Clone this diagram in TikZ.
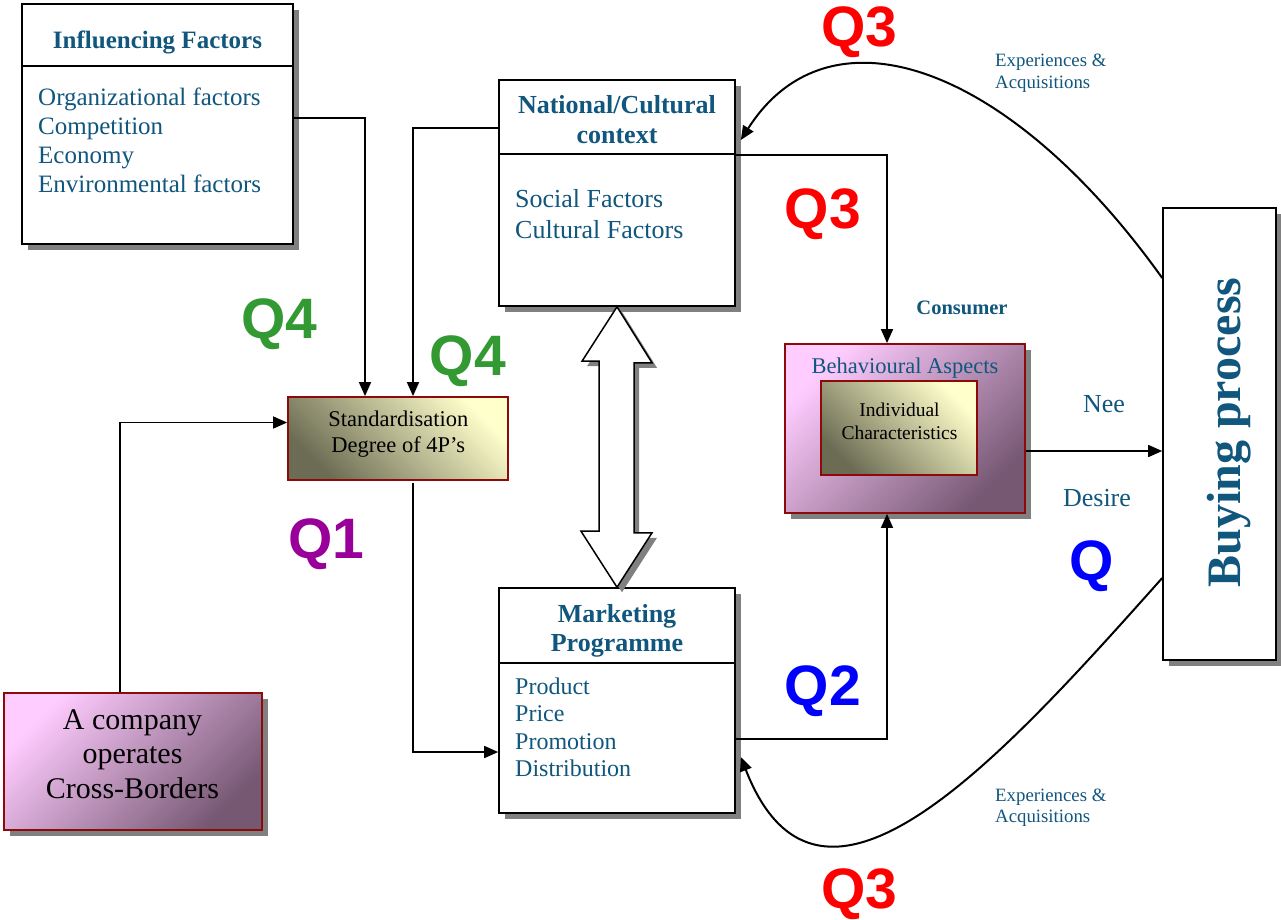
\documentclass[tikz,border=0pt]{standalone}
\usepackage{fontspec}
\setmainfont{Liberation Serif}
\newfontfamily\qfont{Liberation Sans}
\usetikzlibrary{arrows.meta,shadows}

\definecolor{tealtxt}{RGB}{16,86,125}
\definecolor{shadowgray}{RGB}{128,128,128}
\definecolor{frameRed}{RGB}{140,10,10}
\definecolor{pinkLight}{RGB}{255,204,255}
\definecolor{pinkDark}{RGB}{118,88,115}
\definecolor{creamLight}{RGB}{255,255,204}
\definecolor{oliveDark}{RGB}{108,108,84}
\definecolor{qRed}{RGB}{255,0,0}
\definecolor{qBlue}{RGB}{0,0,255}
\definecolor{qGreen}{RGB}{51,153,51}
\definecolor{qPurple}{RGB}{153,0,153}

\tikzset{
  shd/.style={drop shadow={shadow xshift=6pt,shadow yshift=-6pt,fill=shadowgray,opacity=1}},
  wbox/.style={draw=black,line width=1.6pt,fill=white,inner sep=0pt,shd},
  pinkbox/.style={draw=frameRed,line width=1.8pt,inner sep=0pt,
    top color=pinkLight,bottom color=pinkDark,shading angle=45},
  creambox/.style={draw=frameRed,line width=1.8pt,inner sep=0pt,
    top color=creamLight,bottom color=oliveDark,shading angle=-45},
  divider/.style={draw=black,line width=1.6pt},
  conn/.style={draw=black,line width=1.6pt,-{Triangle[length=14pt,width=12pt]}},
  curved/.style={conn,line width=2pt},
  lbl/.style={inner sep=0pt,text=tealtxt},
  blk/.style={inner sep=0pt,text=black},
  qlab/.style={inner sep=0pt,anchor=base west,font=\qfont\bfseries\fontsize{57}{57}\selectfont},
  dblarrow/.style={draw=black,line width=1.5pt,fill=white,line join=miter,
    drop shadow={shadow xshift=5pt,shadow yshift=-5pt,fill=shadowgray,opacity=1}}
}

\begin{document}
\begin{tikzpicture}[x=1pt,y=-1pt]
\useasboundingbox (0,0) rectangle (1281,919);

% ---- boxes ----
\node[wbox,minimum width=271pt,minimum height=240pt] (inf) at (157.5,124) {};
\node[wbox,minimum width=236pt,minimum height=226pt] (nat) at (617,193) {};
\node[wbox,minimum width=236pt,minimum height=225pt] (mkt) at (617,700.5) {};
\node[wbox,minimum width=113pt,minimum height=452pt] (buy) at (1219.5,434) {};
\node[creambox,minimum width=220pt,minimum height=83pt] (std) at (398,438.5) {};
\node[pinkbox,shd,minimum width=240pt,minimum height=169pt] (beh) at (905,428.5) {};
\node[creambox,minimum width=156pt,minimum height=94pt] (ind) at (899,428) {};
\node[pinkbox,shd,minimum width=258pt,minimum height=137pt] (comp) at (133,761.5) {};

% header separators
\draw[divider] ([yshift=-63pt]inf.north west) -- ([yshift=-63pt]inf.north east);
\draw[divider] ([yshift=-75pt]nat.north west) -- ([yshift=-75pt]nat.north east);
\draw[divider] ([yshift=-76pt]mkt.north west) -- ([yshift=-76pt]mkt.north east);

% ---- texts in the boxes ----
\node[lbl,anchor=base,font=\bfseries\fontsize{25}{29}\selectfont] (infT) at (157.5,48) {Influencing Factors};
\foreach \t [count=\i] in {Organizational factors,Competition,Economy,Environmental factors}
  \node[lbl,anchor=base west,font=\fontsize{25}{29}\selectfont] (inf-\i) at (38,{105+(\i-1)*29}) {\t};

\node[lbl,anchor=base,font=\bfseries\fontsize{26}{30}\selectfont] (natT1) at (617,113) {National/Cultural};
\node[lbl,anchor=base,font=\bfseries\fontsize{26}{30}\selectfont] (natT2) at (617,143) {context};
\node[lbl,anchor=base west,font=\fontsize{26}{31}\selectfont] (nat-1) at (515,207) {Social Factors};
\node[lbl,anchor=base west,font=\fontsize{26}{31}\selectfont] (nat-2) at (515,238) {Cultural Factors};

\node[lbl,anchor=base,font=\bfseries\fontsize{26}{29}\selectfont] (mktT1) at (617,622.7) {Marketing};
\node[lbl,anchor=base,font=\bfseries\fontsize{26}{29}\selectfont] (mktT2) at (617,651.7) {Programme};
\foreach \t [count=\i] in {Product,Price,Promotion,Distribution}
  \node[lbl,anchor=base west,font=\fontsize{24}{28}\selectfont] (mkt-\i) at (515,{694+(\i-1)*27.5}) {\t};

\node[blk,anchor=base,font=\fontsize{22.5}{26}\selectfont] (std-1) at (398.3,426.7) {Standardisation};
\node[blk,anchor=base,font=\fontsize{22.5}{26}\selectfont] (std-2) at (398.3,452.7) {Degree of 4P’s};

\node[lbl,anchor=base,font=\fontsize{22.5}{26}\selectfont] (behT) at (905,373.3) {Behavioural Aspects};
\node[blk,anchor=base,font=\fontsize{19.5}{23}\selectfont] (ind-1) at (899.5,416) {Individual};
\node[blk,anchor=base,font=\fontsize{19.5}{23}\selectfont] (ind-2) at (899.5,439) {Characteristics};

\node[blk,anchor=base,font=\fontsize{30}{35}\selectfont] (comp-1) at (132.5,729.3) {A company};
\node[blk,anchor=base,font=\fontsize{30}{35}\selectfont] (comp-2) at (132.5,763.3) {operates};
\node[blk,anchor=base,font=\fontsize{30}{35}\selectfont] (comp-3) at (132.5,798.3) {Cross-Borders};

\node[lbl,anchor=base,rotate=90,font=\bfseries\fontsize{48}{48}\selectfont] (buyT) at (1240.7,432.5) {Buying process};

% ---- free labels ----
\node[lbl,anchor=base,font=\bfseries\fontsize{20.5}{24}\selectfont] (consumer) at (962,314.5) {Consumer};
\node[lbl,anchor=base,font=\fontsize{26}{30}\selectfont] (need) at (1104,412.7) {Nee};
\node[lbl,anchor=base,font=\fontsize{26}{30}\selectfont] (desire) at (1097,506.7) {Desire};
\node[lbl,anchor=base west,font=\fontsize{18.8}{21.6}\selectfont] (expA1) at (995,66.7) {Experiences \&};
\node[lbl,anchor=base west,font=\fontsize{18.8}{21.6}\selectfont] (expA2) at (995,88.3) {Acquisitions};
\node[lbl,anchor=base west,font=\fontsize{18.8}{21.6}\selectfont] (expB1) at (995,801.7) {Experiences \&};
\node[lbl,anchor=base west,font=\fontsize{18.8}{21.6}\selectfont] (expB2) at (995,822.3) {Acquisitions};

\node[qlab,text=qRed] (q3a) at (821,46.7) {Q3};
\node[qlab,text=qRed] (q3b) at (784.5,228.3) {Q3};
\node[qlab,text=qRed] (q3c) at (821,908.3) {Q3};
\node[qlab,text=qBlue] (q2) at (784.5,705) {Q2};
\node[qlab,text=qBlue] (q) at (1069.5,580) {Q};
\node[qlab,text=qGreen] (q4a) at (241,338.3) {Q4};
\node[qlab,text=qGreen] (q4b) at (429.5,375) {Q4};
\node[qlab,text=qPurple] (q1) at (288,558.3) {Q1};

% ---- two-way block arrow between context and programme ----
\draw[dblarrow] (nat.south) -- ++(35,56) -- ++(-18,0) -- ++(0,170) -- ++(18,0)
  -- (mkt.north) -- ++(-36,-56) -- ++(18,0) -- ++(0,-170) -- ++(-17,0) -- cycle;

% ---- connectors ----
\draw[conn] ([yshift=6pt]inf.east) -| ([xshift=-33pt]std.north);
\draw[conn] ([yshift=65pt]nat.west) -| ([xshift=15pt]std.north);
\draw[conn] ([xshift=-13pt]comp.north) |- ([yshift=16pt]std.west);
\draw[conn] ([xshift=15pt,yshift=-2pt]std.south) |- ([yshift=-51.5pt]mkt.west);
\draw[conn] ([yshift=38pt]nat.east) -| ([xshift=-18pt]beh.north);
\draw[conn] ([yshift=-38.5pt]mkt.east) -| ([xshift=-18pt]beh.south);
\coordinate (needOut) at ([yshift=-22.5pt]beh.east);
\draw[conn] (needOut) -- (needOut -| buy.west);
\draw[curved] ([yshift=156pt]buy.west) .. controls (1010,65) and (830,0) .. ([xshift=5pt,yshift=53pt]nat.east);
\draw[curved] ([yshift=-144pt]buy.west) .. controls (1000,760) and (820,960) .. ([xshift=5pt,yshift=-56.5pt]mkt.east);
\end{tikzpicture}
\end{document}
